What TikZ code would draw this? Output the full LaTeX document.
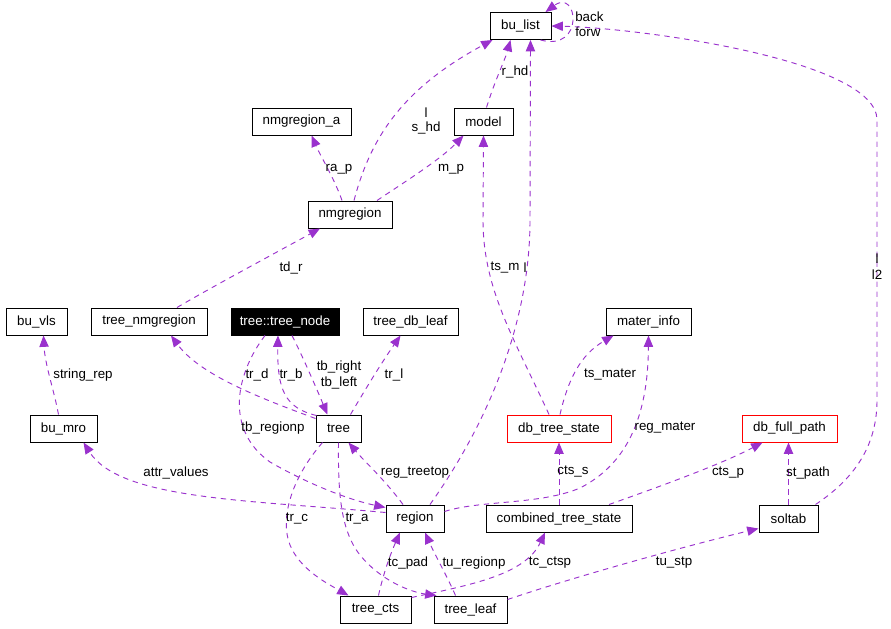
\documentclass[tikz,border=0pt]{standalone}
\usepackage{fontspec}
\setmainfont{Liberation Sans}
\usetikzlibrary{arrows.meta,calc}
\definecolor{edgec}{HTML}{9A32CD}
\definecolor{boxred}{HTML}{FF0000}
\begin{document}
\begin{tikzpicture}[x=0.75pt,y=-0.75pt,
  cls/.style={draw=black, line width=0.75pt, minimum height=20.25pt, minimum width=#1*0.75pt, inner sep=0pt, font=\fontsize{10}{12}\selectfont},
  redcls/.style={cls=#1, draw=boxred},
  rel/.style={draw=edgec, line width=0.7pt, dash pattern=on 4pt off 3.5pt, -{Triangle[length=8.5pt,width=7pt,fill=edgec]}},
  lab/.style={font=\fontsize{10}{12}\selectfont, inner sep=0pt}]
\fill[white] (0,0) rectangle (891,628);
\useasboundingbox (0,0) rectangle (891,628);

% classes
\node[cls=61] (bu_list) at (520.5,26) {bu\_list};
\node[cls=99] (nmgregion_a) at (301.5,121.5) {nmgregion\_a};
\node[cls=59] (model) at (483.5,121.5) {model};
\node[cls=84] (nmgregion) at (350,214.5) {nmgregion};
\node[cls=61] (bu_vls) at (36.5,321.5) {bu\_vls};
\node[cls=116] (tree_nmgregion) at (149,321.5) {tree\_nmgregion};
\node[cls=108, fill=black, text=white] (tree_node) at (285,321.5) {tree::tree\_node};
\node[cls=95] (tree_db_leaf) at (410.5,321.5) {tree\_db\_leaf};
\node[cls=85] (mater_info) at (648.5,321.5) {mater\_info};
\node[cls=67] (bu_mro) at (63.5,428.5) {bu\_mro};
\node[cls=45] (tree) at (338.5,428.5) {tree};
\node[redcls=104] (db_tree_state) at (559,428.5) {db\_tree\_state};
\node[redcls=95] (db_full_path) at (789.5,428.5) {db\_full\_path};
\node[cls=58] (region) at (415,518.5) {region};
\node[cls=146] (combined_tree_state) at (559,518.5) {combined\_tree\_state};
\node[cls=59] (soltab) at (788.5,518.5) {soltab};
\node[cls=71] (tree_cts) at (375.5,609.5) {tree\_cts};
\node[cls=73] (tree_leaf) at (470.5,609.5) {tree\_leaf};

% bu_list self loop
\draw[rel] ($(bu_list.south)+(20,0)$) .. controls (585,52) and (578,-12) .. ($(bu_list.north)+(25,0)$);
\node[lab, anchor=west] at (575,17) {back};
\node[lab, anchor=west] at (575,32) {forw};

% soltab -> bu_list
\draw[rel] ($(soltab.north east)+(-3,0)$) .. controls (860,475) and (877,440) .. (877,400) -- (877,120) .. controls (877,60) and (640,28) .. (bu_list.east);
\node[lab] at (877,259) {l};
\node[lab] at (877,275) {l2};

% nmgregion -> bu_list
\draw[rel] ($(nmgregion.north)+(4,0)$) .. controls (370,140) and (400,90) .. ($(bu_list.south)+(-28,0)$);
\node[lab] at (426,113) {l};
\node[lab] at (426,128) {s\_hd};

% model -> bu_list
\draw[rel] ($(model.north)+(3,0)$) .. controls (495,80) and (505,60) .. ($(bu_list.south)+(-10,0)$);
\node[lab] at (515,72) {r\_hd};

% region -> bu_list
\draw[rel] ($(region.north)+(15,0)$) .. controls (490,420) and (530,320) .. (530,220) -- ($(bu_list.south)+(10,0)$);
\node[lab] at (525,268) {l};

% nmgregion -> nmgregion_a
\draw[rel] ($(nmgregion.north)+(-8,0)$) .. controls (335,180) and (320,155) .. ($(nmgregion_a.south)+(10,0)$);
\node[lab] at (339,169) {ra\_p};

% nmgregion -> model
\draw[rel] ($(nmgregion.north)+(27,0)$) .. controls (400,185) and (440,160) .. ($(model.south)+(-20,0)$);
\node[lab] at (451,169) {m\_p};

% db_tree_state -> model
\draw[rel] ($(db_tree_state.north)+(-10,0)$) .. controls (515,340) and (483,290) .. (483,220) -- (model.south);
\node[lab] at (505,268) {ts\_m};

% tree_nmgregion -> nmgregion
\draw[rel] ($(tree_nmgregion.north)+(28,0)$) .. controls (210,288) and (290,245) .. ($(nmgregion.south)+(-30,0)$);
\node[lab] at (291,268) {td\_r};

% bu_mro -> bu_vls
\draw[rel] ($(bu_mro.north)+(-5,0)$) .. controls (54,390) and (45,365) .. ($(bu_vls.south)+(7,0)$);
\node[lab] at (83,375) {string\_rep};

% region -> bu_mro
\draw[rel] ($(region.west)+(0,-6)$) .. controls (250,500) and (120,500) .. ($(bu_mro.south)+(20,0)$);
\node[lab] at (176,473) {attr\_values};

% tree_node -> region
\draw[rel] ($(tree_node.south)+(-20,0)$) .. controls (235,375) and (225,430) .. (270,462) .. controls (310,485) and (350,500) .. ($(region.west)+(0,-11)$);
\node[lab] at (273,428) {tb\_regionp};

% tree -> tree_nmgregion
\draw[rel] ($(tree.west)+(0,-10)$) .. controls (260,398) and (200,375) .. ($(tree_nmgregion.south)+(22,0)$);
\node[lab] at (257,375) {tr\_d};

% tree -> tree_node
\draw[rel] ($(tree.north west)+(1,1)$) .. controls (285,408) and (277,390) .. ($(tree_node.south)+(-7,0)$);
\node[lab] at (291,375) {tr\_b};

% tree_node -> tree
\draw[rel] ($(tree_node.south)+(7,0)$) .. controls (302,355) and (315,385) .. ($(tree.north)+(-11,0)$);
\node[lab] at (339,367) {tb\_right};
\node[lab] at (339,383) {tb\_left};

% tree -> tree_db_leaf
\draw[rel] ($(tree.north)+(12,0)$) .. controls (365,390) and (380,365) .. ($(tree_db_leaf.south)+(-10,0)$);
\node[lab] at (394,375) {tr\_l};

% region -> tree
\draw[rel] ($(region.north)+(-12,0)$) .. controls (385,480) and (365,462) .. ($(tree.south)+(10,0)$);
\node[lab] at (415,473) {reg\_treetop};

% tree -> tree_cts
\draw[rel] ($(tree.south)+(-16,0)$) .. controls (290,480) and (280,520) .. (290,545) .. controls (300,570) and (330,585) .. ($(tree_cts.north)+(-27,0)$);
\node[lab] at (297,519) {tr\_c};

% tree -> tree_leaf
\draw[rel] (tree.south) .. controls (338,490) and (340,530) .. (360,555) .. controls (380,580) and (410,592) .. ($(tree_leaf.north)+(-34,0)$);
\node[lab] at (357,519) {tr\_a};

% tree_cts -> region
\draw[rel] ($(tree_cts.north)+(3,0)$) .. controls (383,575) and (390,555) .. ($(region.south)+(-15,0)$);
\node[lab] at (408,563) {tc\_pad};

% tree_leaf -> region
\draw[rel] ($(tree_leaf.north)+(-15,0)$) .. controls (448,578) and (435,555) .. ($(region.south)+(10,0)$);
\node[lab] at (474,563) {tu\_regionp};

% tree_cts -> combined_tree_state
\draw[rel] ($(tree_cts.north east)+(0,2)$) .. controls (470,585) and (525,575) .. ($(combined_tree_state.south)+(-14,0)$);
\node[lab] at (550,563) {tc\_ctsp};

% tree_leaf -> soltab
\draw[rel] ($(tree_leaf.east)+(0,-10)$) .. controls (580,575) and (690,545) .. ($(soltab.west)+(0,10)$);
\node[lab] at (674,563) {tu\_stp};

% combined_tree_state -> db_tree_state
\draw[rel] (combined_tree_state.north) -- (db_tree_state.south);
\node[lab] at (573,472) {cts\_s};

% combined_tree_state -> db_full_path
\draw[rel] ($(combined_tree_state.north)+(50,0)$) .. controls (650,490) and (720,465) .. ($(db_full_path.south)+(-27,0)$);
\node[lab] at (728,473) {cts\_p};

% soltab -> db_full_path
\draw[rel] (soltab.north) -- ($(db_full_path.south)+(-1,0)$);
\node[lab] at (808,473) {st\_path};

% db_tree_state -> mater_info
\draw[rel] ($(db_tree_state.north)+(1,0)$) .. controls (568,380) and (580,355) .. ($(mater_info.south)+(-35,0)$);
\node[lab] at (610,375) {ts\_mater};

% region -> mater_info
\draw[rel] ($(region.east)+(0,-7)$) .. controls (480,500) and (540,505) .. (580,488) .. controls (625,465) and (648,420) .. (mater_info.south);
\node[lab] at (665,428) {reg\_mater};
\end{tikzpicture}
\end{document}
